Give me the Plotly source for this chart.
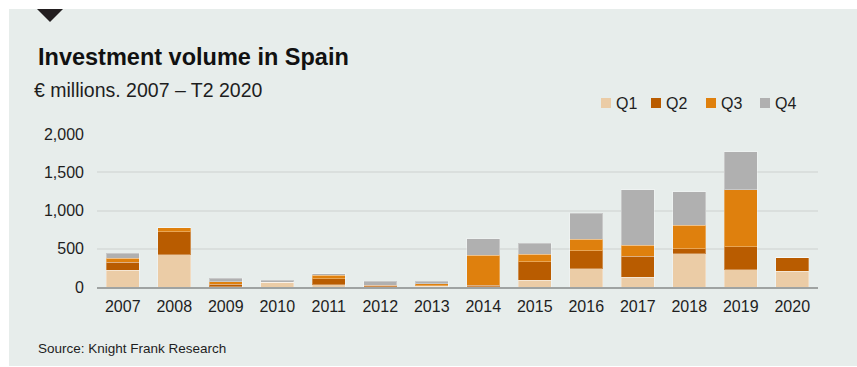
import plotly.graph_objects as go

years = ["2007", "2008", "2009", "2010", "2011", "2012", "2013",
         "2014", "2015", "2016", "2017", "2018", "2019", "2020"]
q1 = [220, 419, 5, 65, 30, 5, 10, 5, 87, 241, 127, 432, 228, 206]
q2 = [105, 301, 30, 0, 78, 20, 5, 15, 240, 231, 274, 71, 296, 179]
q3 = [50, 53, 35, 0, 48, 0, 25, 395, 100, 153, 145, 305, 747, 0]
q4 = [65, 0, 43, 22, 17, 50, 35, 215, 143, 336, 727, 437, 498, 0]
series_names = ["Q1", "Q2", "Q3", "Q4"]
series_colors = ["#EBCCA6", "#B95C00", "#DF800D", "#B0B0B0"]
y_ticks = [0, 500, 1000, 1500, 2000]
y_ticklabels = ["0", "500", "1,000", "1,500", "2,000"]

FONT = "Liberation Sans, Arial, sans-serif"
TXT = "#1e1e1e"
W, H = 857, 367
L, R, T, B = 97, 818, 134, 287


def px(x):
    return (x - L) / (R - L)


def py(y):
    return (B - y) / (B - T)


fig = go.Figure()
for name, vals, col in zip(series_names, [q1, q2, q3, q4], series_colors):
    fig.add_trace(go.Bar(
        x=years, y=vals, name=name,
        marker=dict(color=col, line=dict(color="rgba(255,255,255,0.3)", width=1)),
        showlegend=False,
    ))

shapes = [
    dict(type="rect", xref="paper", yref="paper", layer="below",
         x0=px(9), x1=px(857), y0=py(366), y1=py(9),
         fillcolor="#E7EDEB", line=dict(width=0)),
    dict(type="path", xref="paper", yref="paper",
         path=f"M {px(37)},{py(9)} L {px(63)},{py(9)} L {px(50)},{py(22)} Z",
         fillcolor="#231F20", line=dict(width=0)),
]
annotations = [
    dict(text="<b>Investment volume in Spain</b>", xref="paper", yref="paper",
         x=px(36), y=py(57), xanchor="left", yanchor="middle", showarrow=False,
         font=dict(family=FONT, size=23.5, color="#111")),
    dict(text="€ millions. 2007 – T2 2020", xref="paper", yref="paper",
         x=px(32), y=py(90), xanchor="left", yanchor="middle", showarrow=False,
         font=dict(family=FONT, size=19.5, color=TXT)),
    dict(text="Source: Knight Frank Research", xref="paper", yref="paper",
         x=px(36), y=py(348), xanchor="left", yanchor="middle", showarrow=False,
         font=dict(family=FONT, size=13.5, color=TXT)),
]

# legend (custom, to match compact spacing)
leg_x = [601, 651, 706, 760]
for xpos, name, col in zip(leg_x, series_names, series_colors):
    shapes.append(dict(type="rect", xref="paper", yref="paper",
                       x0=px(xpos), x1=px(xpos + 10), y0=py(108), y1=py(98),
                       fillcolor=col, line=dict(width=0)))
    annotations.append(dict(text=name, xref="paper", yref="paper",
                            x=px(xpos + 13), y=py(103), xanchor="left", yanchor="middle",
                            showarrow=False, font=dict(family=FONT, size=16, color=TXT)))

fig.update_layout(
    width=W, height=H,
    margin=dict(l=L, r=W - R, t=T, b=H - B, pad=0),
    paper_bgcolor="white",
    plot_bgcolor="rgba(0,0,0,0)",
    barmode="stack",
    bargap=0.36,
    shapes=shapes,
    annotations=annotations,
    font=dict(family=FONT, size=16, color=TXT),
    xaxis=dict(type="category", showgrid=False, showline=True, linecolor="#9FA3A2",
               linewidth=2, ticks="", ticklabelstandoff=4,
               tickfont=dict(family=FONT, size=16, color=TXT)),
    yaxis=dict(range=[0, 2000], tickvals=y_ticks, ticktext=y_ticklabels,
               showgrid=True, gridcolor="#DADFDD", gridwidth=1.5, zeroline=False,
               showline=False, ticks="", ticklabelstandoff=12,
               tickfont=dict(family=FONT, size=16, color=TXT)),
)

fig.write_html("out.html")
